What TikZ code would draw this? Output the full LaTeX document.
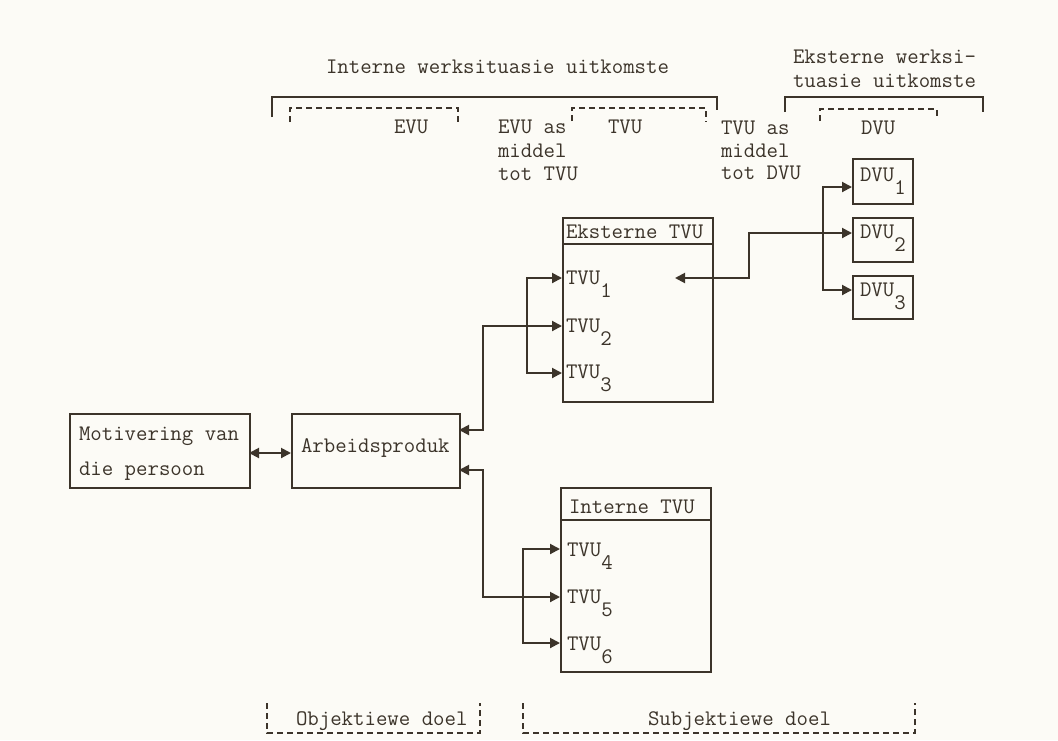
\documentclass[tikz,border=0pt]{standalone}
\usetikzlibrary{arrows.meta,calc}
\definecolor{ink}{RGB}{60,52,42}
\definecolor{paper}{RGB}{252,251,246}
\newcommand\lowsub[1]{\raisebox{-13pt}{#1}}
\begin{document}
\begin{tikzpicture}[x=1pt,y=-1pt,line width=2pt,draw=ink,
  txt/.style={font=\fontsize{22.2}{23}\selectfont\ttfamily,inner sep=0pt,anchor=base west,text=ink},
  box/.style={draw=ink,line width=2.2pt,inner sep=0pt,anchor=north west},
  br/.style={line width=2pt},
  dbr/.style={line width=1.8pt,dash pattern=on 6pt off 4pt},
  arr/.style={-{Triangle[length=10pt,width=10pt]}},
  darr/.style={{Triangle[length=10pt,width=10pt]}-{Triangle[length=10pt,width=10pt]}}]
\fill[paper] (0,0) rectangle (1058,740);
\useasboundingbox (0,0) rectangle (1058,740);

% top labels and brackets
\node[txt] (iwu) at (325,73) {Interne werksituasie uitkomste};
\draw[br] (272,117) -- (272,97) -- (717,97) -- (717,110);
\draw[dbr] (290,122) -- (290,108) -- (458,108) -- (458,122);
\node[txt] (evu) at (393,133) {EVU};
\node[txt] (evuas1) at (497,133) {EVU as};
\node[txt] (evuas2) at (497,157) {middel};
\node[txt] (evuas3) at (497,180) {tot TVU};
\draw[dbr] (572,121) -- (572,108) -- (706,108) -- (706,122);
\node[txt] (tvu) at (607,133) {TVU};
\node[txt] (tvuas1) at (720,134) {TVU as};
\node[txt] (tvuas2) at (720,157) {middel};
\node[txt] (tvuas3) at (720,179) {tot DVU};

\node[txt] (ewu1) at (792,63) {Eksterne werksi-};
\node[txt] (ewu2) at (792,87) {tuasie uitkomste};
\draw[br] (785,112) -- (785,97) -- (983,97) -- (983,112);
\draw[dbr] (820,121) -- (820,109) -- (937,109) -- (937,119);
\node[txt] (dvu) at (860,134) {DVU};

% boxes
\node[box,minimum width=180pt,minimum height=74pt] (mot) at (69,413) {};
\node[txt] at (78,440) {Motivering van};
\node[txt] at (78,475) {die persoon};
\node[box,minimum width=168pt,minimum height=74pt] (arb) at (291,413) {};
\node[txt] at (300,452) {Arbeidsproduk};

\node[box,minimum width=150pt,minimum height=184pt] (ekst) at (562,217) {};
\draw[line width=2.2pt] (562,244) -- (712,244);
\node[txt] at (565,238) {Eksterne TVU};
\node[txt] (tvu1) at (565,284) {TVU\lowsub{1}};
\node[txt] (tvu2) at (565,332) {TVU\lowsub{2}};
\node[txt] (tvu3) at (565,378) {TVU\lowsub{3}};

\node[box,minimum width=150pt,minimum height=184pt] (intn) at (560,487) {};
\draw[line width=2.2pt] (560,520) -- (710,520);
\node[txt] at (568,513) {Interne TVU};
\node[txt] (tvu4) at (566,556) {TVU\lowsub{4}};
\node[txt] (tvu5) at (566,603) {TVU\lowsub{5}};
\node[txt] (tvu6) at (566,650) {TVU\lowsub{6}};

\node[box,minimum width=60pt,minimum height=45pt] (dvu1) at (852,158) {};
\node[txt] at (859,181) {DVU\lowsub{1}};
\node[box,minimum width=60pt,minimum height=44pt] (dvu2) at (852,217) {};
\node[txt] at (859,238) {DVU\lowsub{2}};
\node[box,minimum width=60pt,minimum height=43pt] (dvu3) at (852,275) {};
\node[txt] at (859,296) {DVU\lowsub{3}};

% anchor coordinates
\coordinate (a1) at (459,430);
\coordinate (a2) at (459,470);
\coordinate (m1) at (249,453);
\coordinate (m2) at (291,453);
\coordinate (t1) at (562,278);
\coordinate (t2) at (562,326);
\coordinate (t3) at (562,373);
\coordinate (t4) at (560,549);
\coordinate (t5) at (560,597);
\coordinate (t6) at (560,643);
\coordinate (ein) at (675,278);
\coordinate (d1) at (852,187);
\coordinate (d2) at (852,233);
\coordinate (d3) at (852,290);
\coordinate (bt) at (527,326);
\coordinate (bi) at (523,597);
\coordinate (bd) at (823,233);

% connectors
\draw[darr] (m1) -- (m2);
\draw[darr] (a1) -- (483,430) |- (t2);
\draw[arr] (bt) |- (t1);
\draw[arr] (bt) |- (t3);
\draw[darr] (a2) -- (483,470) |- (t5);
\draw[arr] (bi) |- (t4);
\draw[arr] (bi) |- (t6);
\draw[darr] (ein) -- (749,278) |- (d2);
\draw[arr] (bd) |- (d1);
\draw[arr] (bd) |- (d3);

% bottom brackets
\draw[dbr] (267,703) -- (267,733) -- (480,733) -- (480,703);
\node[txt] (obj) at (295,725) {Objektiewe doel};
\draw[dbr] (523,703) -- (523,733) -- (915,733) -- (915,703);
\node[txt] (sub) at (647,725) {Subjektiewe doel};
\end{tikzpicture}
\end{document}
